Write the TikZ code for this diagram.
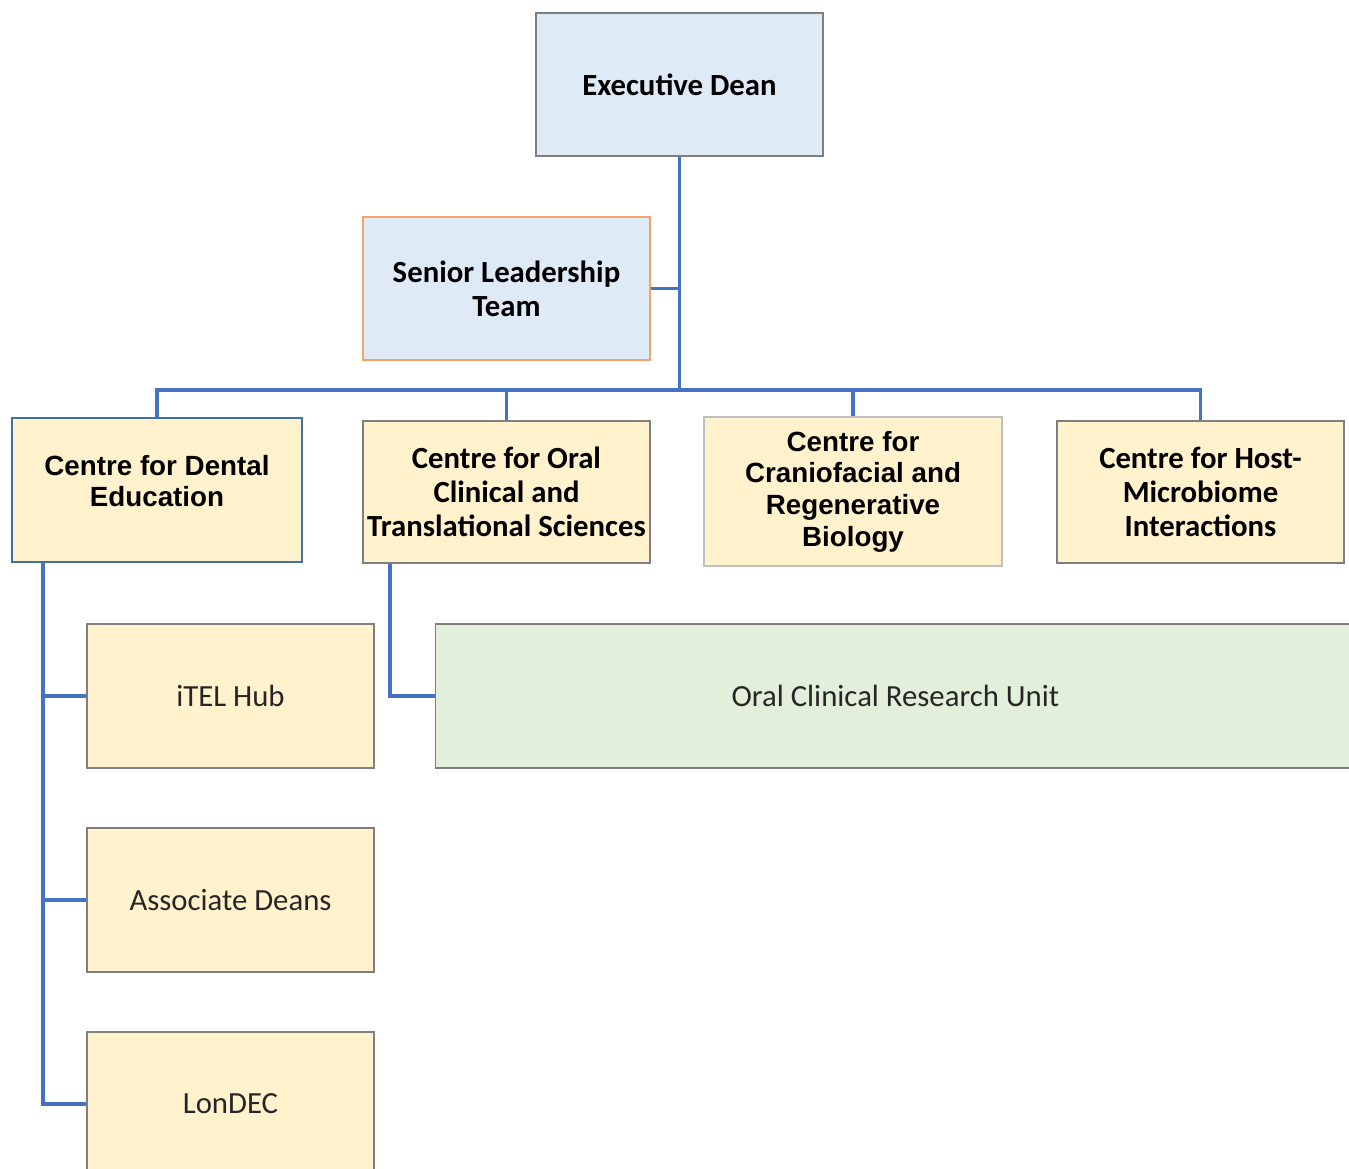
\documentclass[tikz,border=0pt]{standalone}
\usepackage{fontspec}
\setmainfont{Carlito}
\newfontfamily\arialfont{Liberation Sans}
\usepackage{xcolor}
\usetikzlibrary{positioning}
\definecolor{deanblue}{HTML}{DEEBF7}
\definecolor{centreyellow}{HTML}{FFF2CC}
\definecolor{unitgreen}{HTML}{E2EFDA}
\definecolor{linkblue}{HTML}{4472C4}
\definecolor{edgegray}{HTML}{7F7F7F}
\definecolor{sltorange}{HTML}{F4A46A}
\definecolor{cdeblue}{HTML}{41719C}

\begin{document}
\begin{tikzpicture}[
    box/.style={
        rectangle,
        draw=edgegray,
        line width=0.8pt,
        align=center,
        inner sep=0pt,
        minimum width=5.74cm,
        minimum height=2.86cm,
        font=\fontsize{17.5}{19.5}\selectfont\bfseries
    },
    deanbox/.style={box, fill=deanblue},
    centrebox/.style={box, fill=centreyellow, minimum height=2.84cm},
    arialbox/.style={centrebox, font=\arialfont\fontsize{15.8}{18}\selectfont\bfseries},
    unitbox/.style={
        box,
        fill=centreyellow,
        minimum height=2.88cm,
        text=black!85,
        font=\fontsize{17.5}{19.5}\selectfont
    },
    link/.style={
        draw=linkblue,
        line width=2.2pt
    }
]
\clip (0,0) rectangle (26.98,-23.38);

\node[deanbox] (dean) at (13.59,-1.69) {Executive Dean};
\node[deanbox, draw=sltorange] (slt) at (10.13,-5.77) {Senior Leadership\\Team};

\node[arialbox, draw=cdeblue, line width=1.2pt, minimum width=5.80cm, minimum height=2.88cm,
    label={[yshift=0.18cm, align=center, font=\arialfont\fontsize{15.8}{18}\selectfont\bfseries]center:Centre for Dental\\Education}] (cde) at (3.14,-9.80) {};
\node[centrebox] (ocs) at (10.13,-9.84) {Centre for Oral\\Clinical and\\Translational Sciences};
\node[arialbox, draw=black!25, line width=1.2pt, minimum width=5.96cm, minimum height=2.98cm] (crb) at (17.06,-9.83) {Centre for\\Craniofacial and\\Regenerative\\Biology};
\node[centrebox] (hmi) at (24.01,-9.84) {Centre for Host-\\Microbiome\\Interactions};

\node[unitbox] (itel) at (4.61,-13.92) {iTEL Hub};
\node[unitbox, below=1.17cm of itel] (assoc) {Associate Deans};
\node[unitbox, below=1.17cm of assoc] (londec) {LonDEC};
\node[unitbox, fill=unitgreen, minimum width=18.4cm, right=1.2cm of itel] (orcu) {Oral Clinical Research Unit};

\coordinate (bus) at (13.59,-7.80);
\coordinate (cdespine) at ([xshift=0.64cm]cde.south west);
\coordinate (ocsspine) at ([xshift=0.56cm]ocs.south west);

\draw[link] (dean) -- (bus);
\draw[link] (slt) -- (slt -| dean);
\draw[link] (cde) |- (bus) -| (hmi);
\draw[link] (ocs) -- (ocs |- bus);
\draw[link] (crb) -- (crb |- bus);

\draw[link] (cdespine) |- (itel);
\draw[link] (cdespine) |- (assoc);
\draw[link] (cdespine) |- (londec);
\draw[link] (ocsspine) |- (orcu);

\end{tikzpicture}
\end{document}
